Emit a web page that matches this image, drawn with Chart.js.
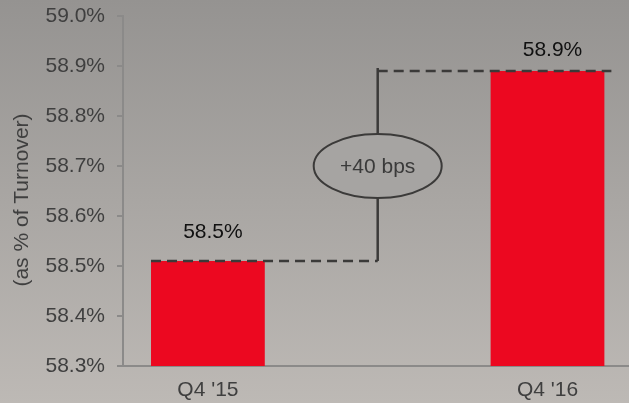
<!DOCTYPE html>
<html>
<head>
<meta charset="utf-8">
<script src="https://cdn.jsdelivr.net/npm/chart.js@4.4.1/dist/chart.umd.min.js"></script>
<style>
  html, body { margin: 0; padding: 0; background: #a8a6a3; }
  #wrap { width: 629px; height: 403px; position: relative; }
</style>
</head>
<body>
<div id="wrap"><canvas id="c"></canvas></div>
<script>
// Gross margin by quarter
const categories = ["Q4 '15", "Q4 '16"];
const marginPct = [58.51, 58.89];
const yTicks = [58.3, 58.4, 58.5, 58.6, 58.7, 58.8, 58.9, 59.0];
const changeLabel = '+40 bps';
const axisTitle = '(as % of Turnover)';

const FONT = '"Liberation Sans", Arial, Helvetica, sans-serif';

// Grey backdrop, darker at the top
const backdrop = {
  id: 'backdrop',
  beforeDraw(chart) {
    const { ctx, width, height } = chart;
    const g = ctx.createLinearGradient(0, 0, 0, height);
    g.addColorStop(0, '#959391');
    g.addColorStop(1, '#bdb9b5');
    ctx.save();
    ctx.fillStyle = g;
    ctx.fillRect(0, 0, width, height);
    ctx.restore();
  }
};

// Value labels, dashed level lines, change bracket and axis title
const overlay = {
  id: 'overlay',
  afterDatasetsDraw(chart, args, opts) {
    const { ctx } = chart;
    const xs = chart.scales.x;
    const ys = chart.scales.y;
    const bars = chart.getDatasetMeta(0).data;
    const b0 = bars[0], b1 = bars[1];
    const midX = xs.getPixelForValue(0.5);
    const y0 = ys.getPixelForValue(marginPct[0]);
    const y1 = ys.getPixelForValue(marginPct[1]);

    ctx.save();
    ctx.strokeStyle = '#3b3a39';
    ctx.lineWidth = 2.5;

    // dashed level lines
    ctx.setLineDash([10, 6]);
    ctx.beginPath();
    ctx.moveTo(b0.x - b0.width / 2, y0);
    ctx.lineTo(midX, y0);
    ctx.moveTo(midX, y1);
    ctx.lineTo(b1.x + b1.width / 2 + 7, y1);
    ctx.stroke();

    // vertical bracket
    ctx.setLineDash([]);
    ctx.beginPath();
    ctx.moveTo(midX, y0);
    ctx.lineTo(midX, y1 - 3);
    ctx.stroke();

    // ellipse with the change
    const cy = (y0 + y1) / 2;
    ctx.beginPath();
    ctx.ellipse(midX, cy, 64, 32, 0, 0, Math.PI * 2);
    ctx.fillStyle = '#a6a4a2';
    ctx.fill();
    ctx.lineWidth = 2;
    ctx.stroke();
    ctx.fillStyle = '#3a3a3a';
    ctx.font = '21px ' + FONT;
    ctx.textAlign = 'center';
    ctx.textBaseline = 'middle';
    ctx.fillText(changeLabel, midX, cy + 1);

    // value labels above bars
    ctx.fillStyle = '#111111';
    ctx.textBaseline = 'alphabetic';
    bars.forEach((b, i) => {
      ctx.fillText(marginPct[i].toFixed(1) + '%', b.x + 5, b.y - opts.lift[i]);
    });

    // rotated axis title
    ctx.fillStyle = '#3f3f3f';
    ctx.translate(22, 200);
    ctx.rotate(-Math.PI / 2);
    ctx.textBaseline = 'middle';
    ctx.fillText(axisTitle, 0, 0);
    ctx.restore();
  }
};

new Chart(document.getElementById('c'), {
  type: 'bar',
  data: {
    datasets: [{
      data: categories.map((c, i) => ({ x: i, y: marginPct[i] })),
      backgroundColor: '#ec0820',
      borderWidth: 0,
      categoryPercentage: 1,
      barPercentage: 0.335
    }]
  },
  options: {
    responsive: true,
    maintainAspectRatio: false,
    animation: false,
    devicePixelRatio: 1,
    layout: { padding: { top: 16, right: 0, bottom: 0, left: 0 } },
    plugins: {
      legend: { display: false },
      tooltip: { enabled: false },
      overlay: { lift: [23, 15] }
    },
    scales: {
      x: {
        type: 'linear',
        offset: false,
        min: -0.25,
        max: 1.24,
        afterBuildTicks(scale) { scale.ticks = [{ value: 0 }, { value: 1 }]; },
        afterFit(scale) { scale.height = 37; scale.paddingLeft = 0; scale.paddingRight = 0; },
        grid: { display: true, drawOnChartArea: false, drawTicks: false, color: '#8b8a89' },
        border: { display: true, color: '#8b8a89', width: 2 },
        ticks: {
          padding: 12,
          color: '#3f3f3f',
          font: { family: FONT, size: 21 },
          callback: (v) => categories[v]
        }
      },
      y: {
        min: 58.3,
        max: 59.0,
        afterBuildTicks(scale) { scale.ticks = yTicks.map(v => ({ value: v })); },
        afterFit(scale) { scale.width = 123; scale.paddingTop = 0; scale.paddingBottom = 0; },
        grid: { drawOnChartArea: false, drawTicks: true, tickLength: 6, color: '#8b8a89', lineWidth: 2 },
        border: { display: true, color: '#8b8a89', width: 2 },
        ticks: {
          padding: 12,
          color: '#3f3f3f',
          font: { family: FONT, size: 21 },
          callback: (v) => Number(v).toFixed(1) + '%'
        }
      }
    }
  },
  plugins: [backdrop, overlay]
});
</script>
</body>
</html>
